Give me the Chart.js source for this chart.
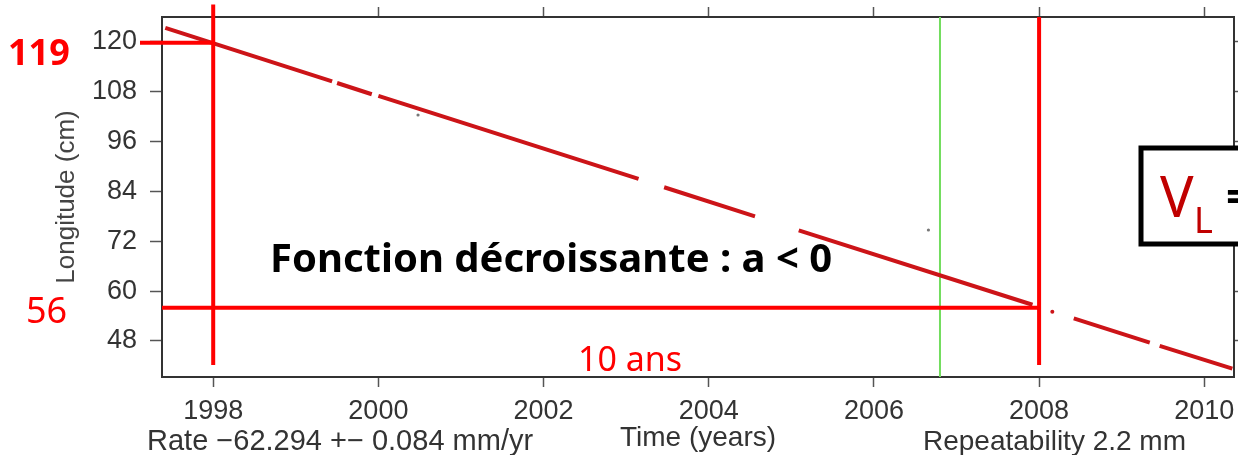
<!DOCTYPE html>
<html>
<head>
<meta charset="utf-8">
<script src="https://cdn.jsdelivr.net/npm/chart.js@4.4.1/dist/chart.umd.min.js"></script>
<style>
	html, body { margin: 0; padding: 0; background: #fff; }
</style>
</head>
<body>
<canvas id="longChart" width="1238" height="455"></canvas>
<script>
// longitude record (null = gap in the record)
const years = [1997.42, 1999.44, 1999.47, 1999.50, 1999.92, 1999.96, 2000.00, 2003.15, 2003.30, 2003.46, 2004.56, 2004.80, 2005.09, 2007.92, 2008.20, 2008.42, 2009.34, 2009.40, 2009.46, 2010.34];
const longitude = [123.4, 110.5, null, 110.1, 107.4, null, 107.0, 87.0, null, 85.0, 78.0, null, 74.6, 56.7, null, 53.4, 47.6, null, 46.8, 41.3];

// stray points
const strayYears = [2000.48, 2006.66];
const strayLong = [102.4, 74.7];
const redDotYears = [2008.16];
const redDotLong = [55.0];

// ticks
const xTicks = [1998, 2000, 2002, 2004, 2006, 2008, 2010];
const yTicks = [48, 60, 72, 84, 96, 108, 120];

// annotations
const markYears = [1998, 2008];
const levelValues = [119.8, 56];
const levelLabels = ['119', '56'];
const greenYear = 2006.8;

const tickFont = { family: '"Liberation Sans", Arial, sans-serif', size: 27 };
const axisColor = '#333';

function pts(xs, ys) {
	return xs.map((v, i) => ({ x: v, y: ys[i] }));
}

// fixed axis sizes, no label overhang padding
function fixSize(w, h) {
	return (s) => {
		if (w !== null) s.width = w;
		if (h !== null) s.height = h;
		s.paddingTop = 0;
		s.paddingBottom = 0;
		s.paddingLeft = 0;
		s.paddingRight = 0;
	};
}

const annotations = {
	id: 'annotations',
	beforeDatasetsDraw(chart) {
		const { ctx, chartArea: a, scales: { x } } = chart;
		const gx = x.getPixelForValue(greenYear);
		ctx.save();
		ctx.strokeStyle = '#72dd5e';
		ctx.lineWidth = 2;
		ctx.beginPath();
		ctx.moveTo(gx, a.top);
		ctx.lineTo(gx, a.bottom);
		ctx.stroke();
		ctx.restore();
	},
	afterDraw(chart) {
		const { ctx, chartArea: a, scales: { x, y } } = chart;
		ctx.save();
		// red guide lines
		ctx.strokeStyle = '#ff0000';
		ctx.lineWidth = 4;
		const x1 = x.getPixelForValue(markYears[0]);
		const x2 = x.getPixelForValue(markYears[1]);
		const yLow = y.getPixelForValue(42.2);
		ctx.beginPath();
		ctx.moveTo(x1, yLow);
		ctx.lineTo(x1, y.getPixelForValue(129));
		ctx.moveTo(x2, yLow);
		ctx.lineTo(x2, a.top);
		ctx.moveTo(140, y.getPixelForValue(levelValues[0]));
		ctx.lineTo(x1 + 2, y.getPixelForValue(levelValues[0]));
		ctx.moveTo(a.left, y.getPixelForValue(levelValues[1]));
		ctx.lineTo(x2 + 2, y.getPixelForValue(levelValues[1]));
		ctx.stroke();

		// red labels
		ctx.fillStyle = '#ff0000';
		ctx.textBaseline = 'alphabetic';
		ctx.textAlign = 'left';
		ctx.font = 'bold 36px "Noto Sans", sans-serif';
		ctx.fillText(levelLabels[0], 8, 65);
		ctx.font = '36px "Noto Sans", sans-serif';
		ctx.fillText(levelLabels[1], 26, 323);
		ctx.font = '34px "Noto Sans", sans-serif';
		ctx.fillText('10 ans', 578, 371);

		// black statement
		ctx.fillStyle = '#000';
		ctx.font = 'bold 40px "Noto Sans", sans-serif';
		ctx.fillText('Fonction décroissante : a < 0', 270, 272);

		// V_L box
		ctx.fillStyle = '#fff';
		ctx.fillRect(1141, 148, 120, 96);
		ctx.strokeStyle = '#000';
		ctx.lineWidth = 5;
		ctx.strokeRect(1141, 148, 120, 96);
		ctx.fillStyle = '#c00000';
		ctx.font = '56px "Noto Sans", sans-serif';
		ctx.fillText('V', 1160, 217);
		ctx.font = '36px "Noto Sans", sans-serif';
		ctx.fillText('L', 1194, 233);
		ctx.fillStyle = '#000';
		ctx.font = 'bold 44px "Noto Sans", sans-serif';
		ctx.fillText('=', 1226, 212);

		// bottom axis side notes
		ctx.fillStyle = axisColor;
		ctx.font = '29px "Liberation Sans", Arial, sans-serif';
		ctx.fillText('Rate \u221262.294 +\u2212 0.084 mm/yr', 147, 450);
		ctx.font = '28px "Liberation Sans", Arial, sans-serif';
		ctx.fillText('Repeatability 2.2 mm', 923, 450);
		ctx.restore();
	},
};

const tickGrid = (len) => ({
	drawOnChartArea: false,
	drawTicks: true,
	tickLength: len,
	tickWidth: 1.5,
	tickColor: '#555',
});
const frame = { display: true, color: axisColor, width: 2 };

new Chart(document.getElementById('longChart'), {
	type: 'line',
	data: {
		datasets: [
			{
				label: 'Longitude',
				data: pts(years, longitude),
				borderColor: '#cc1418',
				borderWidth: 4,
				pointRadius: 0,
				spanGaps: false,
				tension: 0,
			},
			{
				label: 'stray',
				data: pts(strayYears, strayLong),
				showLine: false,
				pointRadius: 1.6,
				pointBackgroundColor: '#777',
				pointBorderWidth: 0,
			},
			{
				label: 'stray red',
				data: pts(redDotYears, redDotLong),
				showLine: false,
				pointRadius: 2,
				pointBackgroundColor: '#cc1418',
				pointBorderWidth: 0,
			},
		],
	},
	options: {
		responsive: false,
		animation: false,
		devicePixelRatio: 1,
		layout: { padding: 0 },
		plugins: {
			legend: { display: false },
			tooltip: { enabled: false },
		},
		scales: {
			x: {
				type: 'linear',
				position: 'bottom',
				min: 1997.38,
				max: 2010.36,
				afterBuildTicks: (s) => { s.ticks = xTicks.map((v) => ({ value: v })); },
				afterFit: fixSize(null, 78),
				grid: tickGrid(10),
				border: frame,
				ticks: { font: tickFont, color: axisColor, padding: 8, maxRotation: 0, callback: (v) => String(v) },
				title: {
					display: true,
					text: 'Time (years)',
					color: axisColor,
					font: { family: '"Liberation Sans", Arial, sans-serif', size: 28 },
					padding: { top: 0, bottom: 0 },
				},
			},
			x2: {
				type: 'linear',
				position: 'top',
				min: 1997.38,
				max: 2010.36,
				afterBuildTicks: (s) => { s.ticks = xTicks.map((v) => ({ value: v })); },
				afterFit: fixSize(null, 17),
				grid: tickGrid(10),
				border: frame,
				ticks: { display: false },
			},
			y: {
				type: 'linear',
				position: 'left',
				min: 39.3,
				max: 126,
				afterBuildTicks: (s) => { s.ticks = yTicks.map((v) => ({ value: v })); },
				afterFit: fixSize(162, null),
				grid: tickGrid(12),
				border: frame,
				ticks: { font: tickFont, color: axisColor, padding: 13 },
				title: {
					display: true,
					text: 'Longitude (cm)',
					color: '#444',
					font: { family: '"Liberation Sans", Arial, sans-serif', size: 26 },
					padding: { top: 51, bottom: 0 },
				},
			},
			y2: {
				type: 'linear',
				position: 'right',
				min: 39.3,
				max: 126,
				afterBuildTicks: (s) => { s.ticks = yTicks.map((v) => ({ value: v })); },
				afterFit: fixSize(4, null),
				grid: tickGrid(4),
				border: frame,
				ticks: { display: false },
			},
		},
	},
	plugins: [annotations],
});
</script>
</body>
</html>
